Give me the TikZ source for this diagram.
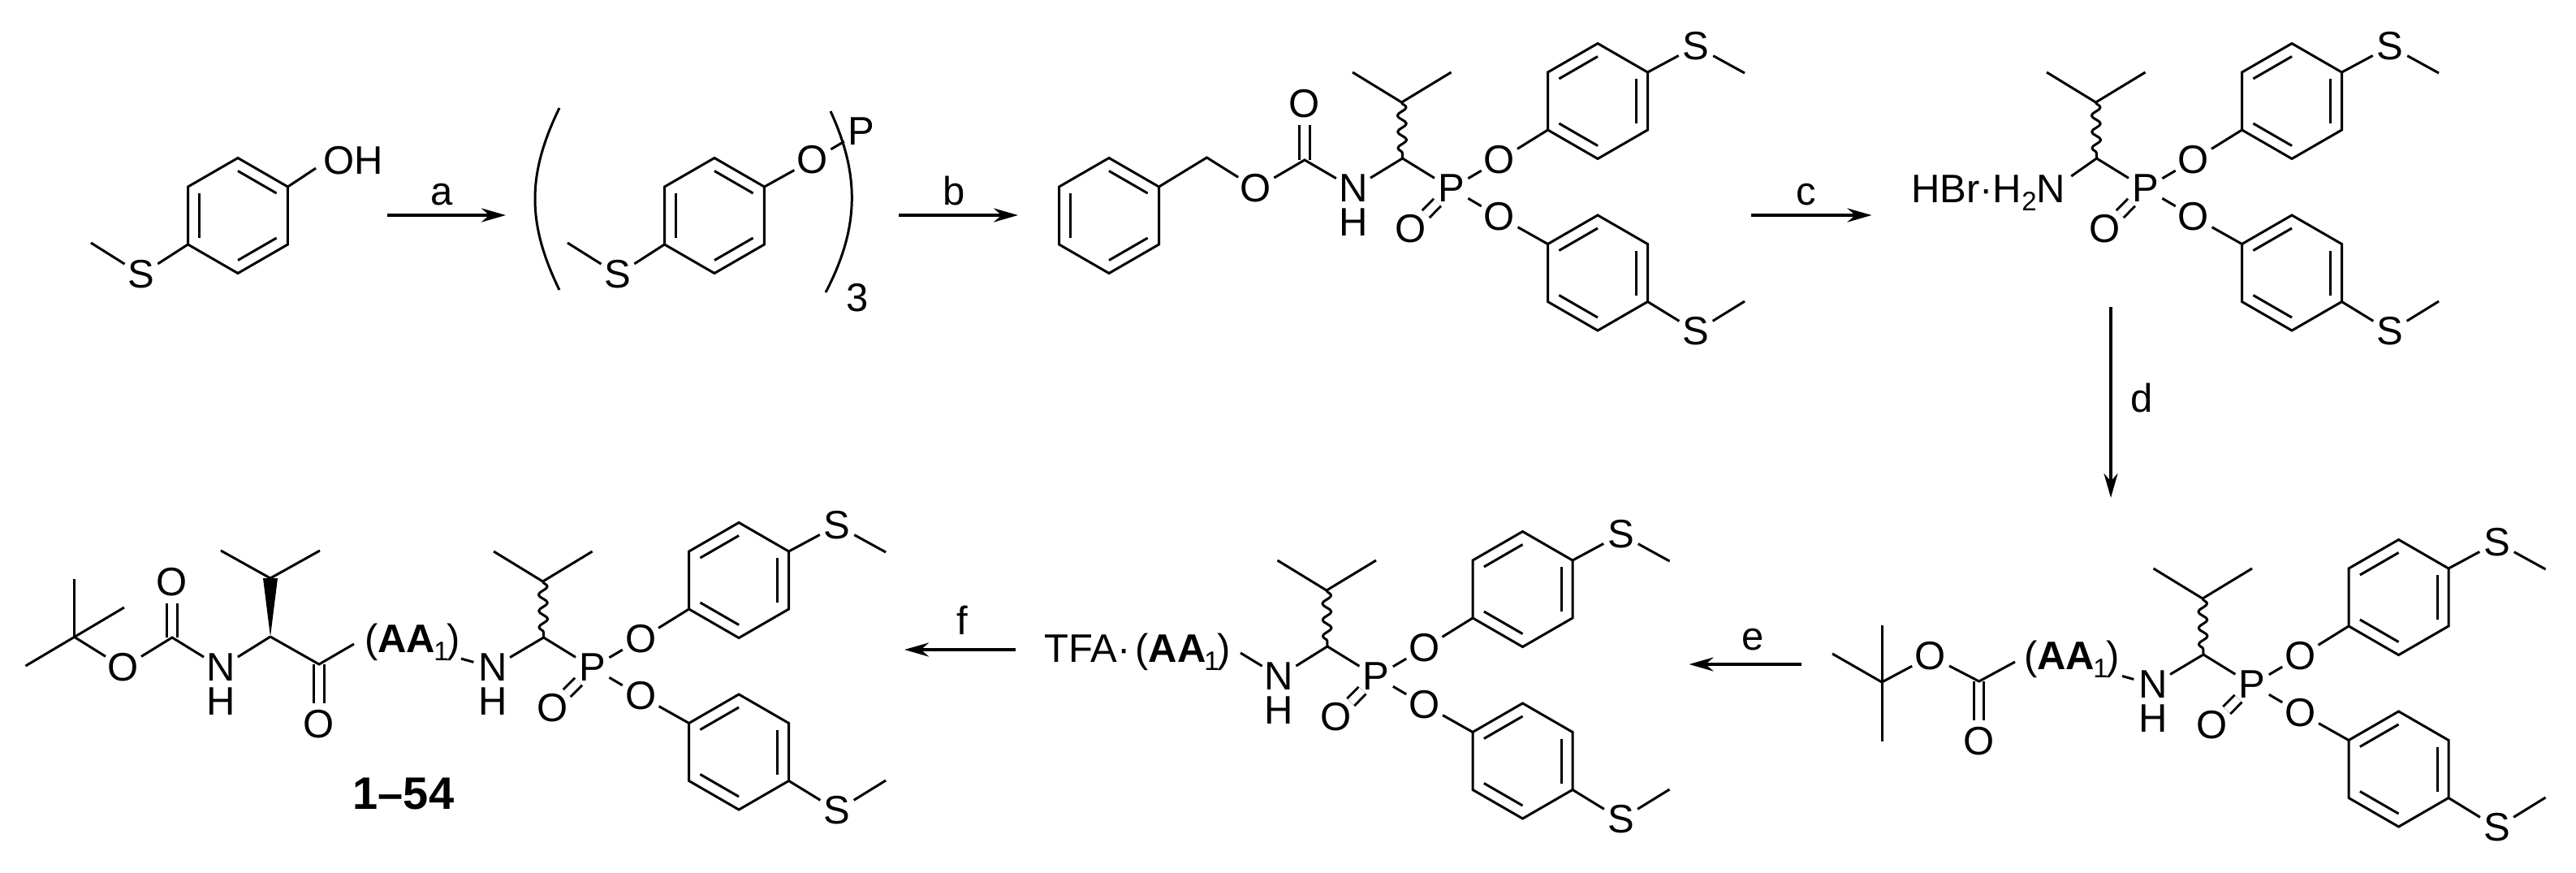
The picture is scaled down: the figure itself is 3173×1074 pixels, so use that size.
\documentclass[tikz,border=0pt]{standalone}
\usepackage{fontspec}
\setmainfont{Liberation Sans}
\usetikzlibrary{positioning,arrows.meta,decorations.pathmorphing}
\newcommand{\atomfont}{\fontsize{49}{50}\selectfont}
\newcommand{\subfont}[1]{\raisebox{-10pt}{\fontsize{33}{33}\selectfont #1}}
\newcommand{\aalabel}{(\textbf{AA}\kern-2pt\subfont{1}\kern-2pt)}
\tikzset{
  bond/.style={line width=3pt},
  dbond/.style={line width=3pt,double,double distance=9.5pt},
  wavy/.style={line width=3pt,line join=round,decorate,decoration={snake,segment length=20pt,amplitude=5.5pt}},
  atom/.style={circle,inner sep=0pt,minimum size=48pt,font=\atomfont},
  txt/.style={inner sep=0pt,font=\atomfont},
  line/.style={line width=4pt,-{Stealth[length=30pt,width=17pt]}},
  ring/.pic={
    \foreach \a in {30,90,...,330} {\coordinate (-v\a) at (\a:71);}
    \draw[bond] (-v30) -- (-v90) -- (-v150) -- (-v210) -- (-v270) -- (-v330) -- cycle;
    \foreach \a in {0,120,240} {\draw[bond] (#1+\a:55) -- (#1+\a+60:55);}
  },
  phos/.pic={
    \node[atom] (-p) at (0,0) {P};
    \coordinate (-ca) at (-60,37);
    \coordinate (-ch) at (-61,106);
    \coordinate (-me_l) at (-121.5,143);
    \coordinate (-me_r) at (0,143);
    \node[atom] (-o_up) at (59.5,35) {O};
    \node[atom] (-o_dn) at (59.5,-35) {O};
    \node[atom] (-o_x) at (-49.5,-50) {O};
    \pic (-ar_up) at (180.5,107.5) {ring=90};
    \pic (-ar_dn) at (180.5,-104) {ring=90};
    \node[atom] (-s_up) at (301.5,175) {S};
    \coordinate (-me_up) at (361.5,142);
    \node[atom] (-s_dn) at (301.5,-176) {S};
    \coordinate (-me_dn) at (361.5,-139);
    \draw[dbond] (-p) -- (-o_x);
    \draw[bond] (-me_l) -- (-ch) -- (-me_r);
    \draw[wavy] (-ch) -- (-ca);
    \draw[bond] (-ca) -- (-p);
    \draw[bond] (-p) -- (-o_up);
    \draw[bond] (-p) -- (-o_dn);
    \draw[bond] (-o_up) -- (-ar_up-v210);
    \draw[bond] (-o_dn) -- (-ar_dn-v150);
    \draw[bond] (-ar_up-v30) -- (-s_up);
    \draw[bond] (-s_up) -- (-me_up);
    \draw[bond] (-ar_dn-v330) -- (-s_dn);
    \draw[bond] (-s_dn) -- (-me_dn);
  }
}
\begin{document}
\begin{tikzpicture}[x=1pt,y=1pt]
  \useasboundingbox (0,0) rectangle (3173,-1074);

  % thiophenol
  \pic (phenol) at (293,-265.5) {ring=30};
  \node[txt,anchor=base west] (phenol_oh) at (398,-214) {OH};
  \node[atom] (phenol_s) at (174,-338) {S};
  \coordinate (phenol_me) at (112,-299);
  \draw[bond] (phenol-v30) -- ([shift={(-9,-10)}]phenol_oh.west);
  \draw[bond] (phenol-v210) -- (phenol_s);
  \draw[bond] (phenol_s) -- (phenol_me);

  % phosphite
  \pic (phosphite) at (880,-265.5) {ring=30};
  \node[atom] (phosphite_o) at (1001,-197) {O};
  \node[atom] (phosphite_p) at (1060.7,-162) {P};
  \node[atom] (phosphite_s) at (761,-338) {S};
  \coordinate (phosphite_me) at (699,-299);
  \node[txt] (phosphite_n) at (1056,-367) {3};
  \coordinate (paren_lt) at (689,-133);
  \coordinate (paren_lb) at (689,-357);
  \coordinate (paren_rt) at (1023,-137);
  \coordinate (paren_rb) at (1017,-360);
  \draw[bond] (phosphite-v30) -- (phosphite_o);
  \draw[bond] (phosphite_o) -- (phosphite_p);
  \draw[bond] (phosphite-v210) -- (phosphite_s);
  \draw[bond] (phosphite_s) -- (phosphite_me);
  \draw[bond] (paren_lt) .. controls (649,-215) and (649,-275) .. (paren_lb);
  \draw[bond] (paren_rt) .. controls (1059,-215) and (1059,-280) .. (paren_rb);

  % Cbz
  \pic (cbz_ph) at (1366,-265.5) {ring=30};
  \pic (cbz_phos) at (1787.5,-232) {phos};
  \coordinate (cbz_ch2) at (1486.5,-194);
  \node[atom] (cbz_o) at (1547,-232) {O};
  \coordinate (cbz_c) at (1607,-197);
  \node[atom] (cbz_ox) at (1607,-128) {O};
  \node[atom] (cbz_n) at (1667,-232) {N};
  \node[txt,below=0pt of cbz_n] (cbz_h) {H};
  \draw[dbond] (cbz_c) -- (cbz_ox);
  \draw[bond] (cbz_ph-v30) -- (cbz_ch2) -- (cbz_o);
  \draw[bond] (cbz_o) -- (cbz_c) -- (cbz_n);
  \draw[bond] (cbz_n) -- (cbz_phos-ca);

  % HBr salt
  \pic (salt_phos) at (2642.5,-232) {phos};
  \node[txt,anchor=base west] (salt_n) at (2354,-249) {HBr\textperiodcentered H\subfont{2}N};
  \draw[bond] (salt_phos-ca) -- ([shift={(7,32)}]salt_n.base east);

  % Boc
  \pic (boc_phos) at (2774,-843) {phos};
  \node[atom] (boc_n) at (2652,-843) {N};
  \node[txt,below=0pt of boc_n] (boc_h) {H};
  \node[txt,anchor=base west] (boc_aa) at (2493,-824) {\aalabel};
  \coordinate (boc_aa_in) at (2482,-815);
  \coordinate (boc_aa_out) at (2614,-832.5);
  \coordinate (boc_c) at (2437.7,-839);
  \node[atom] (boc_ox) at (2437.7,-913) {O};
  \node[atom] (boc_o) at (2378,-808) {O};
  \coordinate (boc_q) at (2318,-840);
  \coordinate (boc_me1) at (2318,-770);
  \coordinate (boc_me2) at (2318,-913);
  \coordinate (boc_me3) at (2257,-805);
  \draw[dbond] (boc_c) -- (boc_ox);
  \draw[bond] (boc_aa_in) -- (boc_c) -- (boc_o);
  \draw[bond] (boc_o) -- (boc_q);
  \draw[bond] (boc_me1) -- (boc_me2);
  \draw[bond] (boc_me3) -- (boc_q);
  \draw[bond] (boc_aa_out) -- (boc_n);
  \draw[bond] (boc_n) -- (boc_phos-ca);

  % TFA salt
  \pic (tfa_phos) at (1695,-833) {phos};
  \node[atom] (tfa_n) at (1575.6,-833) {N};
  \node[txt,below=0pt of tfa_n] (tfa_h) {H};
  \node[txt,anchor=base west] (tfa_aa) at (1286,-815) {TFA\textperiodcentered\hspace{6pt}\aalabel};
  \coordinate (tfa_aa_out) at (1528,-804);
  \draw[bond] (tfa_aa_out) -- (tfa_n);
  \draw[bond] (tfa_n) -- (tfa_phos-ca);

  % final peptide
  \pic (pep_phos) at (729.6,-822) {phos};
  \node[atom] (pep_n) at (607,-822) {N};
  \node[txt,below=0pt of pep_n] (pep_h) {H};
  \node[txt,anchor=base west] (pep_aa) at (449,-803) {\aalabel};
  \coordinate (pep_aa_in) at (436,-793);
  \coordinate (pep_aa_out) at (568,-811);
  \coordinate (pep_co) at (393,-818);
  \node[atom] (pep_ox) at (393,-892) {O};
  \coordinate (val_ca) at (333,-784);
  \coordinate (val_ch) at (333,-712);
  \coordinate (val_me1) at (272,-678);
  \coordinate (val_me2) at (394,-678);
  \node[atom] (val_n) at (272,-822) {N};
  \node[txt,below=0pt of val_n] (val_h) {H};
  \coordinate (pep_c) at (212,-785);
  \node[atom] (pep_cx) at (212,-717) {O};
  \node[atom] (pep_o) at (152,-822) {O};
  \coordinate (pep_q) at (91,-784);
  \coordinate (pep_me1) at (91,-713);
  \coordinate (pep_me2) at (153,-748);
  \coordinate (pep_me3) at (31.5,-820);
  \draw[dbond] (pep_co) -- (pep_ox);
  \draw[dbond] (pep_c) -- (pep_cx);
  \draw[bond] (pep_aa_in) -- (pep_co) -- (val_ca);
  \draw[bond] (val_ca) -- (val_n);
  \fill ([xshift=-9pt]val_ch) -- ([xshift=9pt]val_ch) -- (val_ca) -- cycle;
  \draw[bond] (val_me1) -- (val_ch) -- (val_me2);
  \draw[bond] (val_n) -- (pep_c) -- (pep_o);
  \draw[bond] (pep_o) -- (pep_q);
  \draw[bond] (pep_me1) -- (pep_q);
  \draw[bond] (pep_me2) -- (pep_me3);
  \draw[bond] (pep_aa_out) -- (pep_n);
  \draw[bond] (pep_n) -- (pep_phos-ca);
  \node[txt,font=\fontsize{56}{56}\selectfont\bfseries] (pep_tag) at (497,-977) {1--54};

  % arrows
  \coordinate (a_in) at (477,-265);
  \coordinate (a_out) at (623,-265);
  \coordinate (b_in) at (1107,-265);
  \coordinate (b_out) at (1254,-265);
  \coordinate (c_in) at (2157,-265);
  \coordinate (c_out) at (2305.5,-265);
  \coordinate (d_in) at (2600,-378);
  \coordinate (d_out) at (2600,-613);
  \coordinate (e_in) at (2218.5,-818);
  \coordinate (e_out) at (2080.5,-818);
  \coordinate (f_in) at (1251,-800);
  \coordinate (f_out) at (1114,-800);
  \draw[line] (a_in) -- (a_out);
  \draw[line] (b_in) -- (b_out);
  \draw[line] (c_in) -- (c_out);
  \draw[line] (d_in) -- (d_out);
  \draw[line] (e_in) -- (e_out);
  \draw[line] (f_in) -- (f_out);
  \node[txt,anchor=base] (a_tag) at (544,-252) {a};
  \node[txt,anchor=base] (b_tag) at (1175,-252) {b};
  \node[txt,anchor=base] (c_tag) at (2225,-252) {c};
  \node[txt,anchor=base] (d_tag) at (2638,-507) {d};
  \node[txt,anchor=base] (e_tag) at (2159,-800) {e};
  \node[txt,anchor=base] (f_tag) at (1185.6,-781) {f};
\end{tikzpicture}
\end{document}
